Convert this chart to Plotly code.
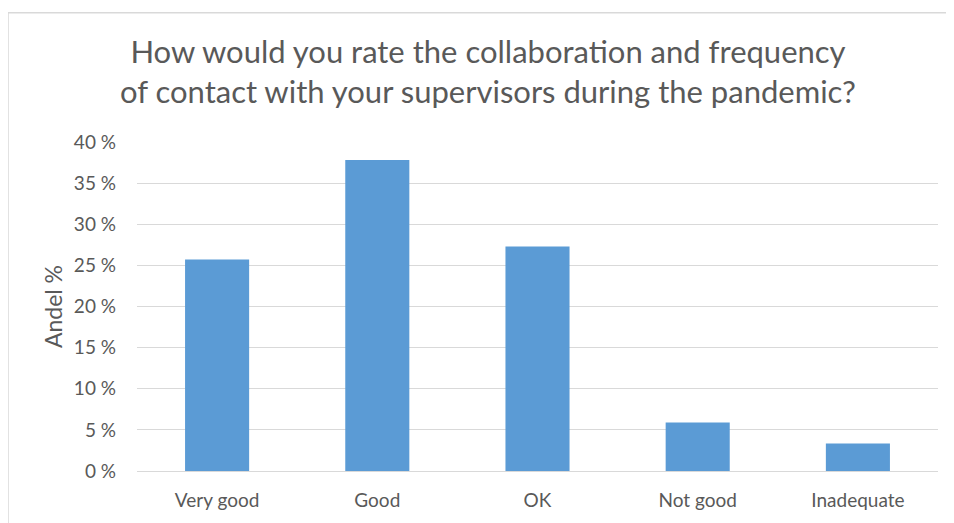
import plotly.graph_objects as go

categories = ["Very good", "Good", "OK", "Not good", "Inadequate"]
values = [25.7, 37.8, 27.3, 5.9, 3.35]
tick_vals = [0, 5, 10, 15, 20, 25, 30, 35, 40]
tick_text = [f"{v} %" for v in tick_vals]

OFF = 8  # default page body margin
W, H = 954 - OFF, 523 - OFF
L, R, T, B = 137 - OFF, 16, 142 - OFF, 50
pw, ph = W - L - R, H - T - B

fig = go.Figure(go.Bar(
    x=categories, y=values, width=0.4,
    marker=dict(color="#5B9BD5", line=dict(width=0)),
))

def px_x(p):
    return (p - OFF - L) / pw

def px_y(p):
    return (H - B - (p - OFF)) / ph

fig.update_layout(
    width=W, height=H,
    margin=dict(l=L, r=R, t=T, b=B),
    paper_bgcolor="white", plot_bgcolor="white",
    font=dict(family="Lato, Open Sans, sans-serif", color="#595959", size=19),
    title=dict(
        text="How would you rate the collaboration and frequency<br>of contact with your supervisors during the pandemic?",
        x=(488 - OFF) / W, xref="container", xanchor="center",
        y=1 - (63 - OFF) / H, yref="container", yanchor="middle",
        font=dict(family="Lato, Open Sans, sans-serif", size=31, color="#595959"),
    ),
    showlegend=False,
    shapes=[
        dict(type="line", xref="paper", yref="paper",
             x0=px_x(8), x1=px_x(960), y0=px_y(12), y1=px_y(12),
             line=dict(color="#D9D9D9", width=1.5)),
        dict(type="line", xref="paper", yref="paper",
             x0=px_x(8), x1=px_x(8), y0=px_y(12), y1=px_y(530),
             line=dict(color="#D9D9D9", width=1.5)),
    ],
)
fig.update_yaxes(
    range=[0, 40], tickvals=tick_vals, ticktext=tick_text,
    showgrid=True, gridcolor="#D9D9D9", gridwidth=1.3,
    zeroline=True, zerolinecolor="#D9D9D9", zerolinewidth=1.3,
    showline=False, ticks="", ticklabelstandoff=20,
    title=dict(text="Andel %", font=dict(size=23, color="#595959"), standoff=4),
    tickfont=dict(size=19, color="#595959"),
)
fig.update_xaxes(
    showline=False, showgrid=False, ticks="", ticklabelstandoff=16,
    tickfont=dict(size=19, color="#595959"),
)

fig.write_html("out.html")
